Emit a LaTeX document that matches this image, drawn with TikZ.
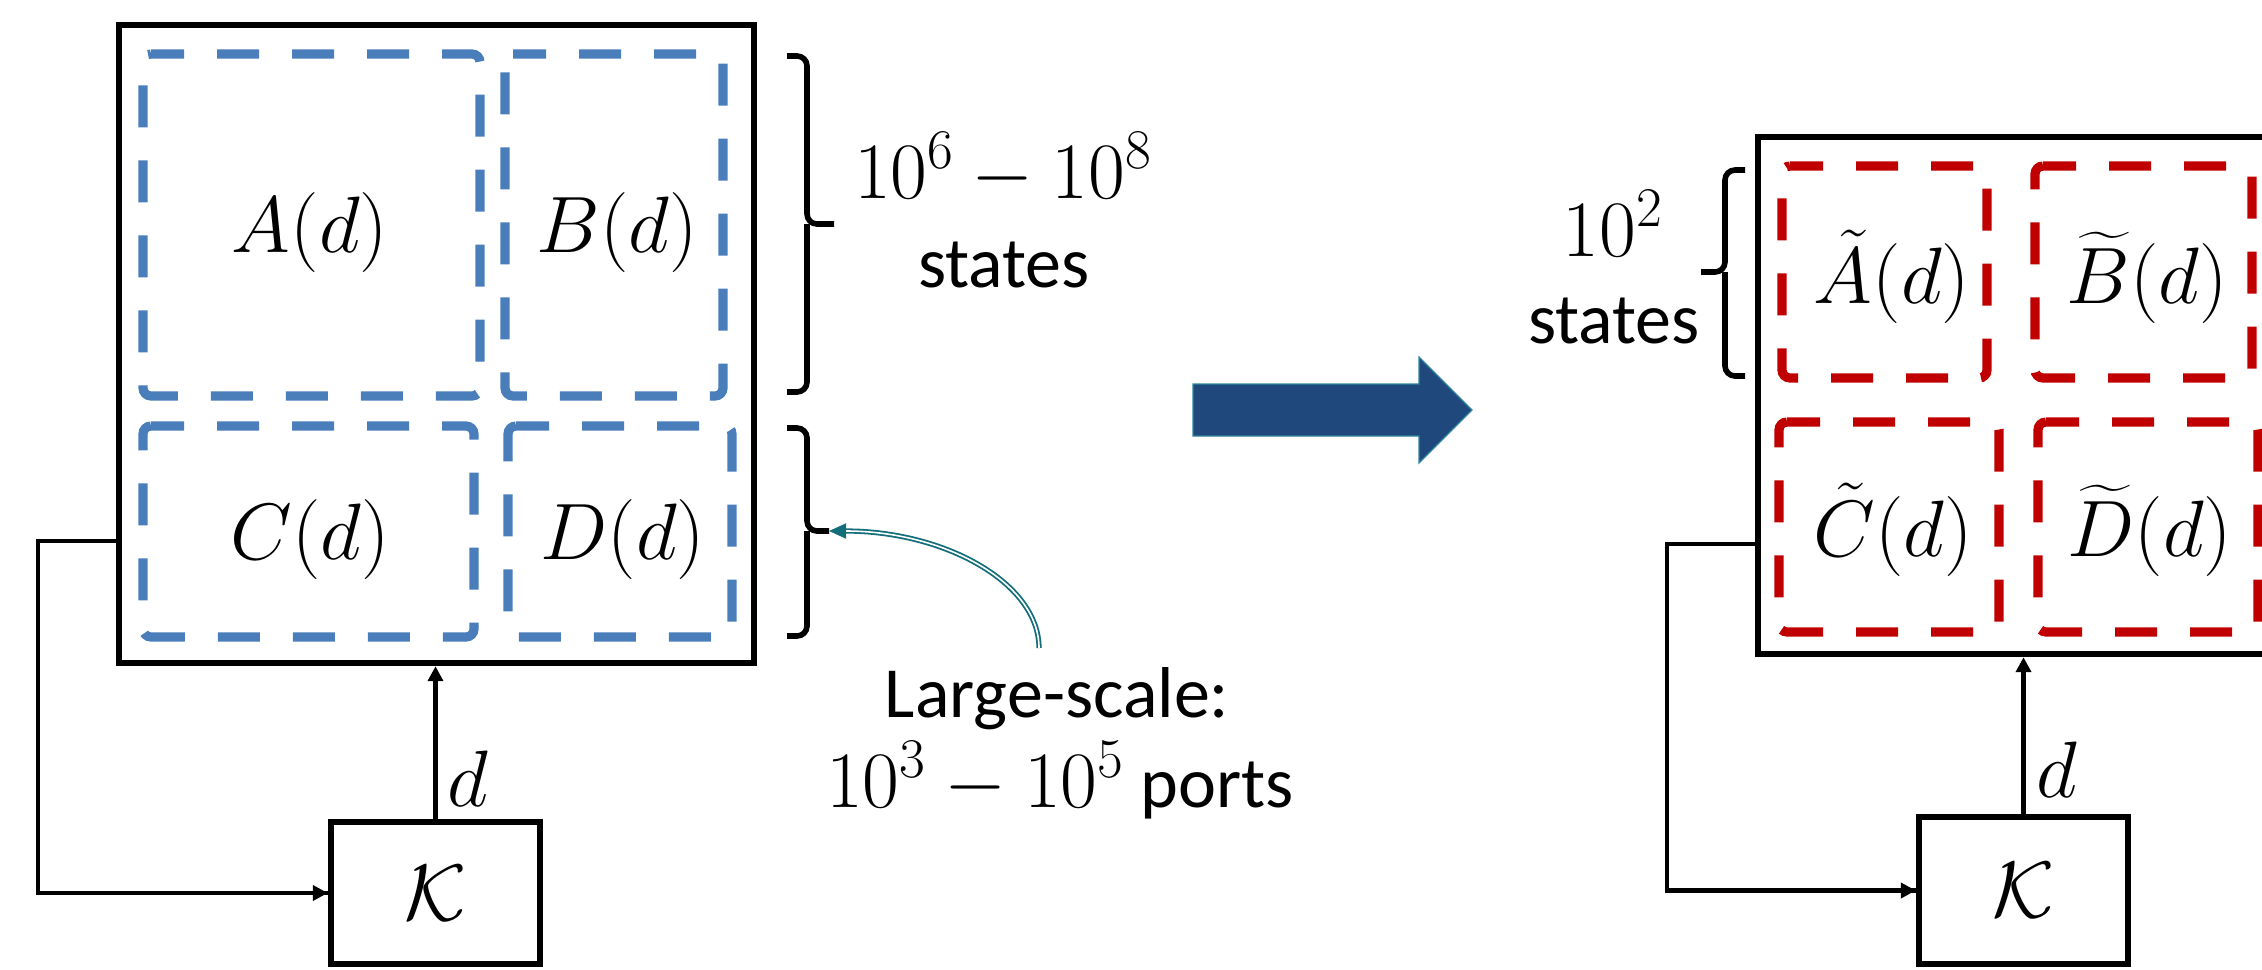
\RequirePackage{fix-cm}
\documentclass[tikz,border=0pt]{standalone}
\usepackage[no-math]{fontspec}
\setmainfont{Carlito}
\usepackage{amsmath}
\usetikzlibrary{arrows.meta}
\definecolor{dashblue}{RGB}{74,126,187}
\definecolor{dashred}{RGB}{192,0,0}
\definecolor{arrowfill}{RGB}{31,73,125}
\definecolor{arrowline}{RGB}{49,133,156}
\definecolor{curveteal}{RGB}{20,110,122}
\begin{document}
\begin{tikzpicture}[x=0.5pt,y=-0.5pt,
  bigbox/.style={draw, line width=3.2pt, inner sep=0pt},
  kbox/.style={draw, line width=3.2pt, inner sep=0pt, minimum width=104.5pt, font=\fontsize{40}{48}\selectfont},
  bluedash/.style={draw=dashblue, line width=4.6pt, dash pattern=on 21pt off 16.5pt, dash phase=4.5pt, rounded corners=4pt},
  reddash/.style={draw=dashred, line width=4.6pt, dash pattern=on 21pt off 16.5pt, dash phase=4.5pt, rounded corners=4pt},
  mathlbl/.style={inner sep=0pt, anchor=base, font=\fontsize{40}{48}\selectfont},
  txtlbl/.style={inner sep=0pt, anchor=base, font=\fontsize{36}{43}\selectfont},
  conn/.style={line width=2.2pt, -{Triangle[length=7.5pt,width=7.5pt]}},
  feed/.style={line width=2.2pt},
  bracestyle/.style={line width=2.8pt, rounded corners=5pt},
]
\useasboundingbox (0,0) rectangle (2262,969);
\clip (0,0) rectangle (2262,969);

% ---------------- left panel ----------------
\node[bigbox, minimum width=317.5pt, minimum height=319pt] (boxL) at (436.5,344) {};
\draw[bluedash] (143,54) -- (480,54) -- (480,396) -- (143,396) -- cycle;
\draw[bluedash] (505,54) -- (723,54) -- (723,396) -- (505,396) -- cycle;
\draw[bluedash] (143,426) -- (474,426) -- (474,637) -- (143,637) -- cycle;
\draw[bluedash] (508,426) -- (732,426) -- (732,637) -- (508,637) -- cycle;
\node[mathlbl] (Ad) at (310,252) {$A(d)$};
\node[mathlbl] (Bd) at (617,252) {$B(d)$};
\node[mathlbl] (Cd) at (310,559) {$C(d)$};
\node[mathlbl] (Dd) at (623,559) {$D(d)$};

\node[kbox, minimum height=71pt] (KL) at (435.5,893) {$\mathcal{K}$};
\draw[conn] (KL.north) -- (KL.north |- boxL.south);
\node[mathlbl, anchor=base west] (dL) at (447,806) {$d$};
\coordinate (fbL) at (38,541);
\draw[feed] (boxL.west |- fbL) -- (fbL) |- (KL.west);
\draw[conn] (fbL |- KL.west) -- (KL.west);

% braces left
\coordinate (braceA) at (834,224);
\coordinate (braceB) at (829,531);
\draw[bracestyle] (787,56) -- (807,56) -- (807,224) -- (braceA);
\draw[bracestyle] (787,392) -- (807,392) -- (807,224);
\draw[bracestyle] (787,428) -- (807,428) -- (807,531) -- (braceB);
\draw[bracestyle] (787,636) -- (807,636) -- (807,531);

\node[mathlbl] (range1) at (1003,198) {$10^6-10^8$};
\node[txtlbl] (states1) at (1004,287) {states};
\node[txtlbl] (large) at (1057,717) {Large-scale:};
\node[txtlbl] (ports) at (1060,807) {\fontsize{40}{48}\selectfont$10^3-10^5$\fontsize{36}{43}\selectfont{} ports};

\coordinate (curveStart) at (1039,648);
\draw[curveteal, line width=0.9pt, double=white, double distance=0.8pt,
      -{Triangle[length=8.5pt,width=7.5pt]}]
  (curveStart) .. controls (1039,583) and (945,531) .. (braceB);

% ---------------- big arrow ----------------
\draw[fill=arrowfill, draw=arrowline, line width=0.6pt]
  (1193,384) -- (1419,384) -- (1419,357) -- (1472,410) -- (1419,463)
  -- (1419,436) -- (1193,436) -- cycle;

% ---------------- right panel ----------------
\node[bigbox, minimum width=265pt, minimum height=258.5pt] (boxR) at (2023,395.5) {};
\draw[reddash] (1782,166) -- (1987,166) -- (1987,378) -- (1782,378) -- cycle;
\draw[reddash] (2035,166) -- (2252,166) -- (2252,378) -- (2035,378) -- cycle;
\draw[reddash] (1779,422) -- (1999,422) -- (1999,632) -- (1779,632) -- cycle;
\draw[reddash] (2038,422) -- (2258,422) -- (2258,632) -- (2038,632) -- cycle;
\node[mathlbl] (Atd) at (1892,303) {$\tilde{A}(d)$};
\node[mathlbl] (Btd) at (2147,303) {$\widetilde{B}(d)$};
\node[mathlbl] (Ctd) at (1893,556) {$\tilde{C}(d)$};
\node[mathlbl] (Dtd) at (2150,556) {$\widetilde{D}(d)$};

\node[kbox, minimum height=73.5pt] (KR) at (2023.5,890.5) {$\mathcal{K}$};
\draw[conn] (KR.north) -- (KR.north |- boxR.south);
\node[mathlbl, anchor=base west] (dR) at (2036,797) {$d$};
\coordinate (fbR) at (1667,544);
\draw[feed] (boxR.west |- fbR) -- (fbR) |- (KR.west);
\draw[conn] (fbR |- KR.west) -- (KR.west);

% brace right
\coordinate (braceC) at (1701,272);
\draw[bracestyle] (1745,170) -- (1725,170) -- (1725,272) -- (braceC);
\draw[bracestyle] (1745,376) -- (1725,376) -- (1725,272);
\node[mathlbl] (range2) at (1613,256) {$10^2$};
\node[txtlbl] (states2) at (1614,343) {states};
\end{tikzpicture}
\end{document}
